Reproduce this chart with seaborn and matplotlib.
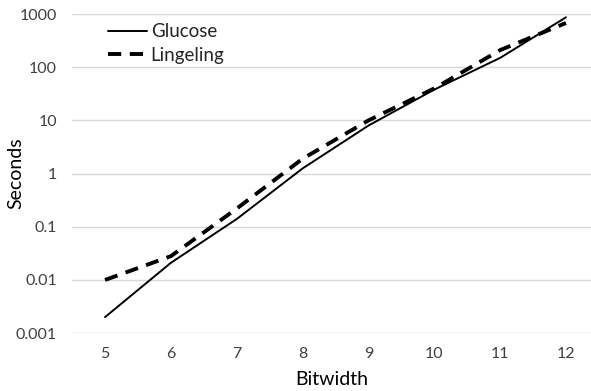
import pandas as pd
import matplotlib
matplotlib.use("Agg")
import matplotlib.pyplot as plt
import seaborn as sns

# values
bitwidth = [5, 6, 7, 8, 9, 10, 11, 12]
glucose = [0.002, 0.021, 0.14, 1.25, 8, 38, 150, 870]
lingeling = [0.01, 0.028, 0.22, 1.9, 10, 40, 210, 680]
yticks = [0.001, 0.01, 0.1, 1, 10, 100, 1000]
ytick_labels = ["0.001", "0.01", "0.1", "1", "10", "100", "1000"]

df = pd.DataFrame({
    "Bitwidth": bitwidth * 2,
    "Seconds": glucose + lingeling,
    "Solver": ["Glucose"] * len(bitwidth) + ["Lingeling"] * len(bitwidth),
})

sns.set_style("white")
plt.rcParams["font.family"] = ["Lato", "DejaVu Sans"]

fig = plt.figure(figsize=(5.91, 3.91), dpi=100)
ax = fig.add_axes([0.122, 0.148, 0.878, 0.816])

sns.lineplot(data=df[df.Solver == "Glucose"], x="Bitwidth", y="Seconds",
             color="black", linewidth=1.4, label="Glucose", ax=ax)
sns.lineplot(data=df[df.Solver == "Lingeling"], x="Bitwidth", y="Seconds",
             color="black", linewidth=2.8, label="Lingeling", ax=ax)
ax.lines[1].set_dashes((3.4, 2.2))

ax.set_yscale("log")
ax.set_ylim(0.001, 1000)
ax.set_xlim(4.5, 12.38)
ax.set_yticks(yticks)
ax.set_yticklabels(ytick_labels)
ax.minorticks_off()
ax.set_xticks(bitwidth)
ax.tick_params(axis="both", labelsize=11.5, colors="#404040", length=0)
ax.tick_params(axis="y", pad=11)
ax.tick_params(axis="x", pad=10)
ax.grid(axis="y", color="#d9d9d9", linewidth=1)
ax.grid(axis="x", visible=False)
sns.despine(ax=ax, left=True, bottom=True, top=True, right=True)

ax.set_xlabel("Bitwidth", fontsize=14, color="#000000")
ax.set_ylabel("Seconds", fontsize=14, color="#000000")
ax.xaxis.set_label_coords(0.5, -0.12)
ax.yaxis.set_label_coords(-0.092, 0.5)

leg = ax.legend(loc="upper left", bbox_to_anchor=(0.054, 0.995), frameon=False,
                fontsize=13.5, handlelength=2.1, handletextpad=0.2,
                labelspacing=0.35, borderaxespad=0)
for line in leg.get_lines():
    line.set_color("black")

fig.savefig("out.png", dpi=100)
